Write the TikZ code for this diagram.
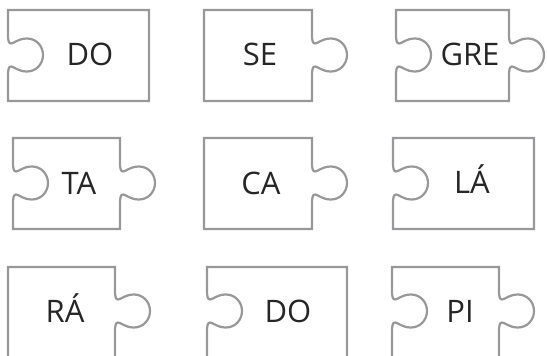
\documentclass[tikz,border=0pt]{standalone}
\usepackage{fontspec}
\setmainfont{Open Sans}
\definecolor{edgegray}{RGB}{152,152,154}
\tikzset{
  piece/.style={draw=edgegray, line width=2.2pt, line join=miter},
  syl/.style={anchor=base, font=\fontsize{31}{31}\selectfont, text=black!85, inner sep=0pt}
}
% knob bulging toward +x, traversed downward (increasing image y)
\newcommand\knobdn[2]{-- (#1,#2-21) .. controls (#1,#2-15) and (#1+0.5,#2-11.5) .. (#1+3,#2-11.5)
  .. controls (#1+6,#2-11.5) and (#1+10,#2-16.5) .. (#1+19,#2-16.5)
  .. controls (#1+28.1,#2-16.5) and (#1+35,#2-9.1) .. (#1+35,#2)
  .. controls (#1+35,#2+9.1) and (#1+28.1,#2+16.5) .. (#1+19,#2+16.5)
  .. controls (#1+10,#2+16.5) and (#1+6,#2+11.5) .. (#1+3,#2+11.5)
  .. controls (#1+0.5,#2+11.5) and (#1,#2+15) .. (#1,#2+21)}
% same knob traversed upward
\newcommand\knobup[2]{-- (#1,#2+21) .. controls (#1,#2+15) and (#1+0.5,#2+11.5) .. (#1+3,#2+11.5)
  .. controls (#1+6,#2+11.5) and (#1+10,#2+16.5) .. (#1+19,#2+16.5)
  .. controls (#1+28.1,#2+16.5) and (#1+35,#2+9.1) .. (#1+35,#2)
  .. controls (#1+35,#2-9.1) and (#1+28.1,#2-16.5) .. (#1+19,#2-16.5)
  .. controls (#1+10,#2-16.5) and (#1+6,#2-11.5) .. (#1+3,#2-11.5)
  .. controls (#1+0.5,#2-11.5) and (#1,#2-15) .. (#1,#2-21)}
\begin{document}
\begin{tikzpicture}[x=1pt,y=-1pt]
\useasboundingbox (0,0) rectangle (547,356);
\clip (0,0) rectangle (547,356);
% Row 1
\draw[piece] (8,10) -- (149,10) -- (149,101) -- (8,101) \knobup{8}{55} -- cycle;
\draw[piece] (204,10) -- (312,10) \knobdn{312}{55} -- (312,101) -- (204,101) -- cycle;
\draw[piece] (396,10) -- (509,10) \knobdn{509}{55} -- (509,101) -- (396,101) \knobup{396}{55} -- cycle;
% Row 2
\draw[piece] (13,138) -- (120,138) \knobdn{120}{183} -- (120,229) -- (13,229) \knobup{13}{183} -- cycle;
\draw[piece] (204,138) -- (312,138) \knobdn{312}{183} -- (312,229) -- (204,229) -- cycle;
\draw[piece] (393,138) -- (534,138) -- (534,229) -- (393,229) \knobup{393}{183} -- cycle;
% Row 3
\draw[piece] (8,267) -- (115,267) \knobdn{115}{311} -- (115,358) -- (8,358) -- cycle;
\draw[piece] (207,267) -- (347,267) -- (347,358) -- (207,358) \knobup{207}{311} -- cycle;
\draw[piece] (392,267) -- (499,267) \knobdn{499}{311} -- (499,358) -- (392,358) \knobup{392}{311} -- cycle;
% Syllables
\node[syl] (t1) at (90,65) {DO};
\node[syl] (t2) at (260,65) {SE};
\node[syl] (t3) at (470,65) {GRE};
\node[syl] (t4) at (79,194) {TA};
\node[syl] (t5) at (261,194) {CA};
\node[syl] (t6) at (472,193) {LÁ};
\node[syl] (t7) at (65,322) {RÁ};
\node[syl] (t8) at (288,322) {DO};
\node[syl] (t9) at (460,322) {PI};
\end{tikzpicture}
\end{document}
